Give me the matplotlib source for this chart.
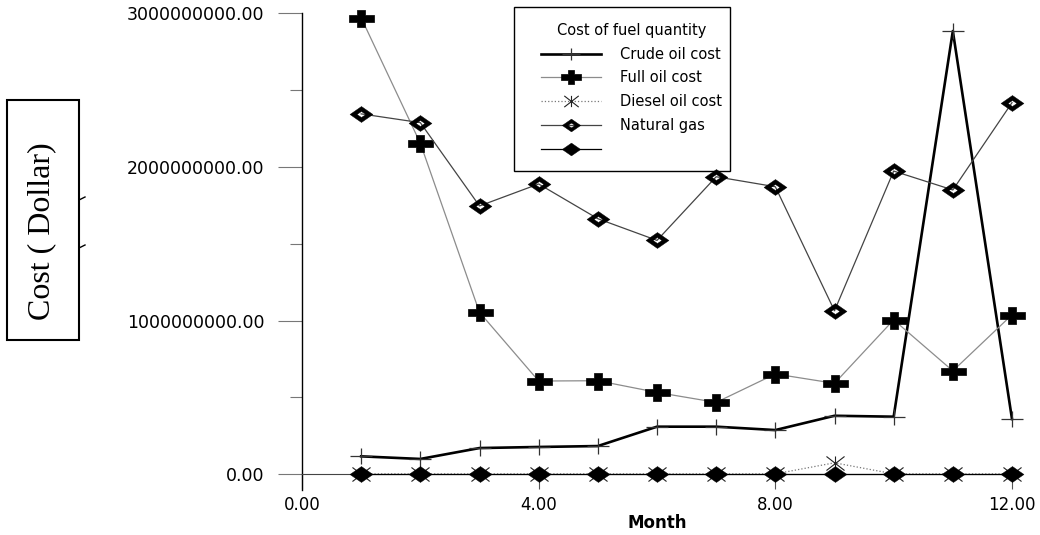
import matplotlib
matplotlib.use("Agg")
import matplotlib.pyplot as plt
from matplotlib.lines import Line2D
from matplotlib.patches import Rectangle
from matplotlib.path import Path
from matplotlib.ticker import MultipleLocator, FormatStrFormatter

# monthly fuel costs (dollars)
months = [1, 2, 3, 4, 5, 6, 7, 8, 9, 10, 11, 12]
crude_oil = [0.117e9, 0.100e9, 0.171e9, 0.178e9, 0.184e9, 0.310e9,
             0.310e9, 0.288e9, 0.381e9, 0.375e9, 2.884e9, 0.360e9]
full_oil = [2.970e9, 2.154e9, 1.054e9, 0.607e9, 0.609e9, 0.533e9,
            0.468e9, 0.653e9, 0.592e9, 1.005e9, 0.673e9, 1.038e9]
diesel_oil = [0.003e9, 0.003e9, 0.003e9, 0.003e9, 0.003e9, 0.003e9,
              0.003e9, 0.003e9, 0.075e9, 0.003e9, 0.003e9, 0.003e9]
natural_gas = [2.345e9, 2.288e9, 1.746e9, 1.889e9, 1.663e9, 1.522e9,
               1.936e9, 1.871e9, 1.064e9, 1.973e9, 1.850e9, 2.418e9]
other = [0, 0, 0, 0, 0, 0, 0, 0, 0, 0, 0, 0]

labels = ["Crude oil cost", "Full oil cost", "Diesel oil cost", "Natural gas", ""]
xticks = [0, 4, 8, 12]
yticks = [0, 1e9, 2e9, 3e9]

W, H = 1040, 535
def fx(px):
    return px / W
def fy(py):
    return 1 - py / H

# the original picture is stretched sideways, so the markers are too
M, L, C = Path.MOVETO, Path.LINETO, Path.CLOSEPOLY
thin_plus = Path([(-11.5, 0), (11.5, 0), (0, -7.8), (0, 7.8)], [M, L, M, L])
bold_plus = Path([(-4, 8.5), (4, 8.5), (4, 3.5), (12.5, 3.5), (12.5, -3.5), (4, -3.5),
                  (4, -8.5), (-4, -8.5), (-4, -3.5), (-12.5, -3.5), (-12.5, 3.5),
                  (-4, 3.5), (-4, 8.5)],
                 [M, L, L, L, L, L, L, L, L, L, L, L, C])
star = Path([(0, -7), (0, 7), (-9, -7), (9, 7), (-9, 7), (9, -7)], [M, L, M, L, M, L])
open_diamond = Path([(-11.5, 0), (0, 8), (11.5, 0), (0, -8), (-11.5, 0),
                     (-4.5, 0), (0, -3), (4.5, 0), (0, 3), (-4.5, 0)],
                    [M, L, L, L, C, M, L, L, L, C])
diamond = Path([(-11.5, 0), (0, 8), (11.5, 0), (0, -8), (-11.5, 0)], [M, L, L, L, C])

fig = plt.figure(figsize=(10.4, 5.35), dpi=100)
ax = fig.add_axes([fx(302), fy(489.7), fx(1012) - fx(302), fy(13.2) - fy(489.7)])

styles = [
    dict(color="black", lw=1.9, marker=thin_plus, ms=16.5, mec="#333333", mew=0.9, mfc="none"),
    dict(color="#8c8c8c", lw=0.9, marker=bold_plus, ms=18, mec="black", mfc="black", mew=0.5),
    dict(color="#777777", lw=0.9, ls=":", marker=star, ms=13, mec="#222222", mew=0.8, mfc="none"),
    dict(color="#444444", lw=0.9, marker=open_diamond, ms=16.5, mec="black", mfc="black", mew=0.3),
    dict(color="black", lw=0.9, marker=diamond, ms=16.5, mec="black", mfc="black", mew=0.3),
]
series = [crude_oil, full_oil, diesel_oil, natural_gas, other]
for i in range(5):
    ax.plot(months, series[i], clip_on=False, zorder=3 + i, **styles[i])

ax.set_xlim(0, 12)
ax.set_ylim(-0.1e9, 3.0e9)
ax.set_xticks(xticks)
ax.set_yticks(yticks)
ax.yaxis.set_minor_locator(MultipleLocator(0.5e9))
ax.xaxis.set_major_formatter(FormatStrFormatter("%.2f"))
ax.yaxis.set_major_formatter(FormatStrFormatter("%.2f"))

ax.spines["top"].set_visible(False)
ax.spines["right"].set_visible(False)
ax.spines["bottom"].set_position(("data", 0))
ax.spines["bottom"].set_color("#444444")
ax.spines["bottom"].set_linewidth(0.8)
ax.spines["left"].set_linewidth(1.0)

ax.tick_params(axis="y", which="major", direction="out", length=17, width=0.8,
               color="#777777", pad=10, labelsize=12.5)
ax.tick_params(axis="y", which="minor", direction="out", length=8.5, width=0.8,
               color="#777777")
ax.tick_params(axis="x", which="major", direction="out", length=10.8, width=0.8,
               color="#555555", pad=5, labelsize=12)

ax.set_xlabel("Month", fontsize=12, fontweight="bold", labelpad=0)

# y label lives in its own box, left of the tick labels
fig.add_artist(Rectangle((fx(7), fy(340)), fx(79) - fx(7), fy(100) - fy(340),
                         transform=fig.transFigure, fill=False, ec="black", lw=1.5))
fig.text(fx(42), fy(231), "Cost ( Dollar)", rotation=90, ha="center", va="center",
         fontsize=23, family="Liberation Serif")
for py in [200, 248]:
    fig.add_artist(Line2D([fx(79), fx(85)], [fy(py), fy(py - 3)],
                          transform=fig.transFigure, color="black", lw=1))

# legend: frame drawn separately so its padding can be set freely
fig.add_artist(Rectangle((fx(514), fy(171)), fx(730) - fx(514), fy(7) - fy(171),
                         transform=fig.transFigure, fill=False, ec="black", lw=1.0))
handles = []
for i in range(5):
    st = dict(styles[i])
    st["ms"] = st["ms"] * 0.8
    handles.append(Line2D([], [], **st))
ax.legend(handles, labels, title="Cost of fuel quantity", loc="upper left",
          bbox_to_anchor=(fx(541), fy(23)), bbox_transform=fig.transFigure,
          frameon=False, borderpad=0, borderaxespad=0, fontsize=10.5,
          title_fontsize=10.5, handlelength=4.1, handletextpad=1.35,
          labelspacing=0.6, numpoints=1)

fig.savefig("out.png", dpi=100)
